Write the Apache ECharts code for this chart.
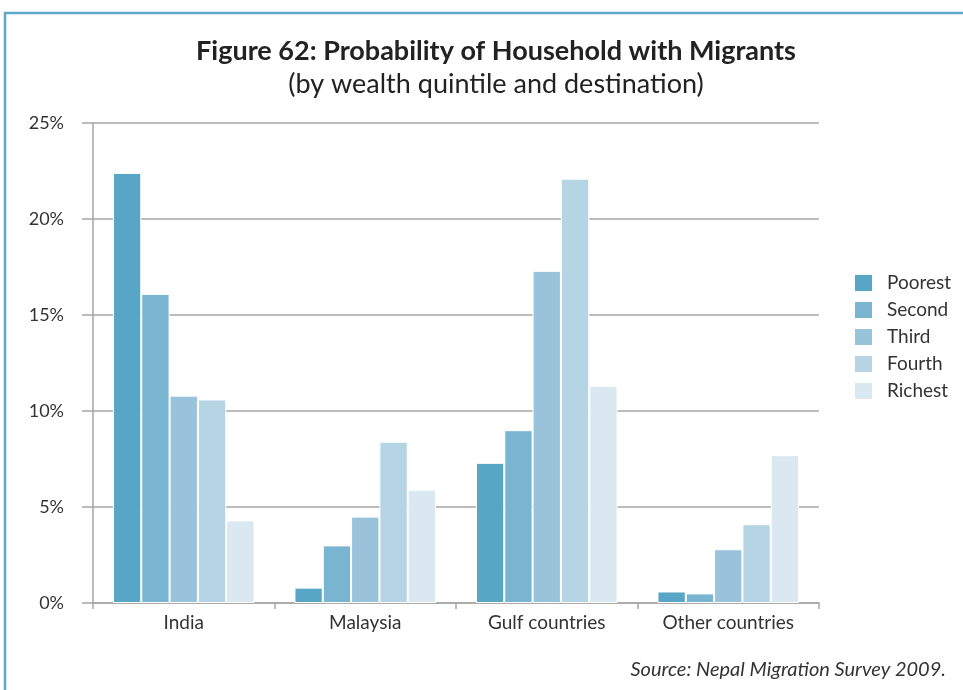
<!DOCTYPE html>
<html>
<head>
<meta charset="utf-8">
<script src="https://cdn.jsdelivr.net/npm/echarts@6/dist/echarts.min.js"></script>
<style>
  html, body { margin: 0; padding: 0; background: #ffffff; }
  #chart { width: 963px; height: 690px; }
</style>
</head>
<body>
<div id="chart"></div>
<script>
// Destinations on the x axis
const destinations = ['India', 'Malaysia', 'Gulf countries', 'Other countries'];

// Share of households with migrants (%) per wealth quintile
const poorest = [22.4, 0.8, 7.3, 0.6];
const second  = [16.1, 3.0, 9.0, 0.5];
const third   = [10.8, 4.5, 17.3, 2.8];
const fourth  = [10.6, 8.4, 22.1, 4.1];
const richest = [4.3, 5.9, 11.3, 7.7];

const quintiles = ['Poorest', 'Second', 'Third', 'Fourth', 'Richest'];
const quintileValues = [poorest, second, third, fourth, richest];
const quintileColors = ['#58a6c5', '#79b4d1', '#98c3da', '#b5d4e4', '#d9e8f1'];

const yTicks = { min: 0, max: 25, step: 5 };

const FONT = 'Lato, "Open Sans", sans-serif';

const chart = echarts.init(document.getElementById('chart'), null, { renderer: 'canvas' });

chart.setOption({
  backgroundColor: '#ffffff',
  animation: false,
  textStyle: { fontFamily: FONT },
  title: [
    {
      text: 'Figure 62: Probability of Household with Migrants',
      left: 491, top: 33, textAlign: 'center',
      textStyle: { fontFamily: FONT, fontSize: 27, fontWeight: 'bold', color: '#222222' }
    },
    {
      text: '(by wealth quintile and destination)',
      left: 491, top: 66, textAlign: 'center',
      textStyle: { fontFamily: FONT, fontSize: 27, fontWeight: 'normal', color: '#222222' }
    },
    {
      text: 'Source: Nepal Migration Survey 2009.',
      right: 12, top: 655,
      textStyle: { fontFamily: FONT, fontSize: 20, fontStyle: 'italic', fontWeight: 'normal', color: '#333333' }
    }
  ],
  legend: {
    orient: 'vertical',
    left: 848, top: 268,
    itemWidth: 19, itemHeight: 18, itemGap: 7,
    icon: 'rect',
    textStyle: { fontFamily: FONT, fontSize: 19, color: '#333333', padding: [0, 0, 0, 9] },
    data: quintiles
  },
  grid: { left: 93, right: 144, top: 123, bottom: 87, containLabel: false },
  xAxis: {
    type: 'category',
    data: destinations,
    axisLine: { show: true, lineStyle: { color: '#a6a6a6', width: 1.5 } },
    axisTick: { show: true, length: 6, alignWithLabel: false, lineStyle: { color: '#a6a6a6', width: 1.5 } },
    axisLabel: { fontFamily: FONT, fontSize: 19, color: '#333333', margin: 10 }
  },
  yAxis: {
    type: 'value',
    min: yTicks.min, max: yTicks.max, interval: yTicks.step,
    axisLine: { show: true, lineStyle: { color: '#a6a6a6', width: 1.5 } },
    axisTick: { show: true, length: 11, inside: false, lineStyle: { color: '#a6a6a6', width: 1.5 } },
    axisLabel: { formatter: '{value}%', fontFamily: FONT, fontSize: 18, color: '#333333', margin: 29 },
    splitLine: { show: true, lineStyle: { color: '#a6a6a6', width: 1.5 } }
  },
  series: quintiles.map((name, i) => ({
    name: name,
    type: 'bar',
    data: quintileValues[i],
    barGap: '0%',
    barCategoryGap: '22%',
    itemStyle: { color: quintileColors[i], borderColor: '#ffffff', borderWidth: 1 }
  })),
  graphic: [
    // frame rule along the top and left edge
    { type: 'line', shape: { x1: 4, y1: 13, x2: 963, y2: 13 }, style: { stroke: '#5fa8c8', lineWidth: 2.5 }, z: 10 },
    { type: 'line', shape: { x1: 5, y1: 12, x2: 5, y2: 690 }, style: { stroke: '#5fa8c8', lineWidth: 2.5 }, z: 10 }
  ]
});
</script>
</body>
</html>
